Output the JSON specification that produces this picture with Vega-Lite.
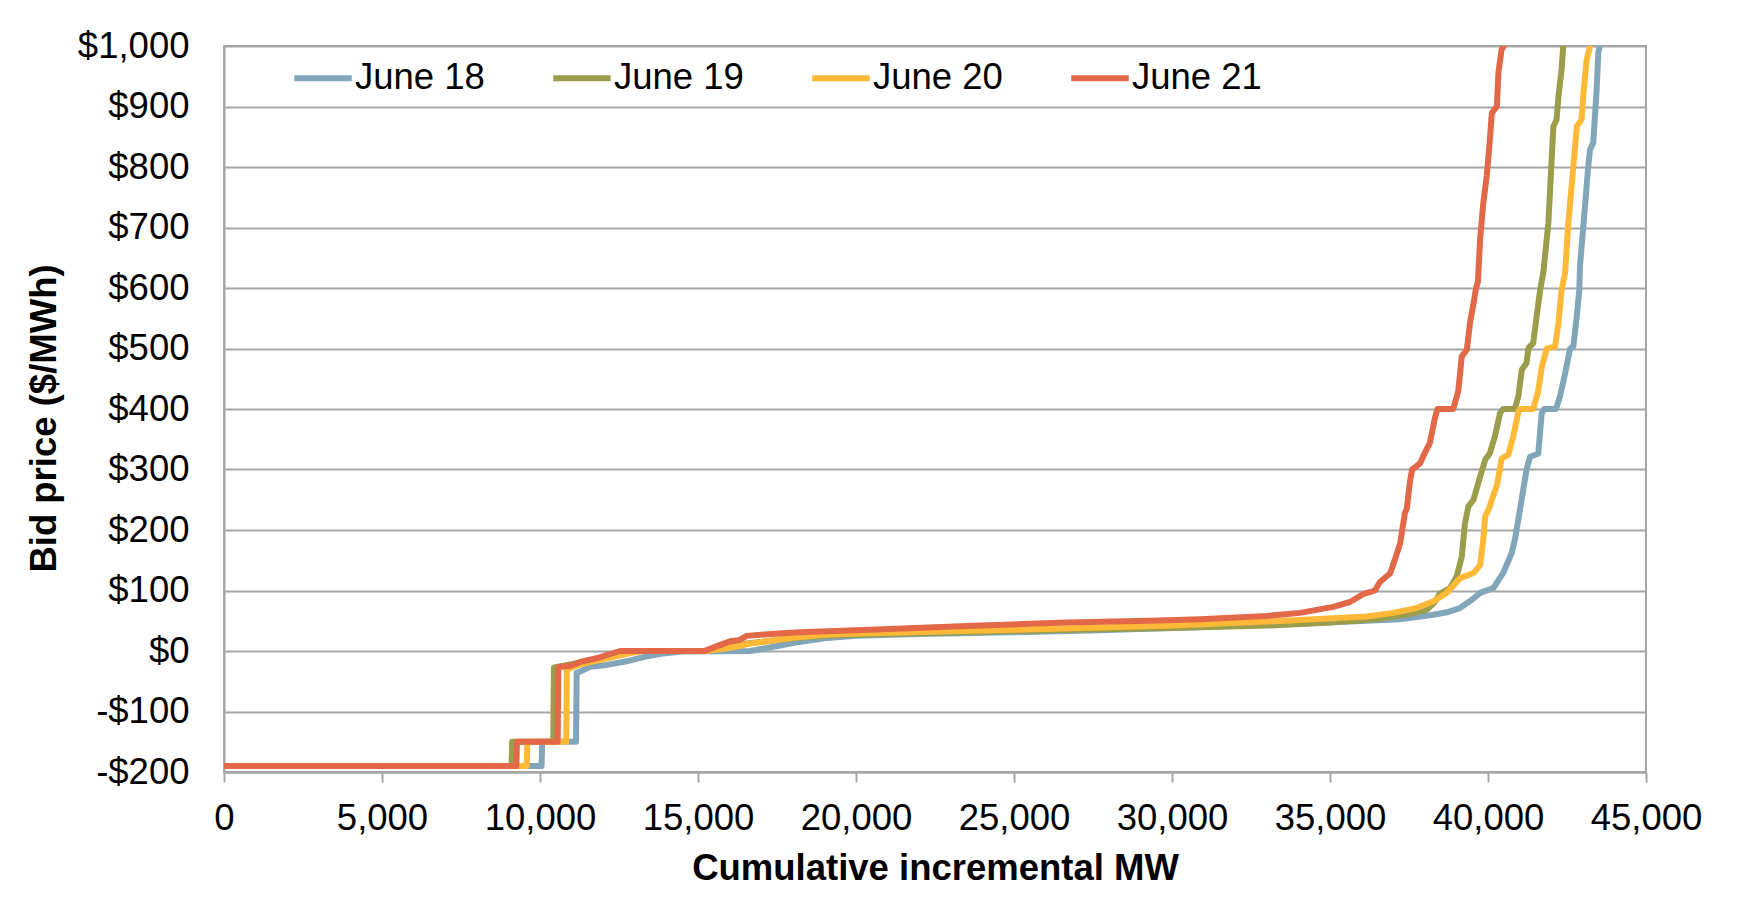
{
  "$schema": "https://vega.github.io/schema/vega-lite/v6.json",
  "autosize": {"type": "none"},
  "width": 1422,
  "height": 726,
  "padding": {"left": 224, "top": 46, "right": 91, "bottom": 142},
  "background": "white",
  "config": {
    "font": "Liberation Sans",
    "view": {"stroke": "#A6A6A6", "strokeWidth": 2},
    "axis": {"labelFont": "Liberation Sans", "titleFont": "Liberation Sans", "labelColor": "#000000", "titleColor": "#000000", "labelFontSize": 36.5, "titleFontSize": 36.5, "titleFontWeight": "bold"}
  },
  "data": {"values": [
    {"d":"June 18","mw":0,"p":-190},{"d":"June 18","mw":10050,"p":-190},{"d":"June 18","mw":10070,"p":-150},{"d":"June 18","mw":11140,"p":-150},{"d":"June 18","mw":11160,"p":-36},{"d":"June 18","mw":11270,"p":-34},{"d":"June 18","mw":11580,"p":-26},{"d":"June 18","mw":12110,"p":-23},{"d":"June 18","mw":12740,"p":-17},{"d":"June 18","mw":13270,"p":-10},{"d":"June 18","mw":13900,"p":-4},{"d":"June 18","mw":14500,"p":-1},{"d":"June 18","mw":16650,"p":0},{"d":"June 18","mw":17100,"p":4},{"d":"June 18","mw":17600,"p":9},{"d":"June 18","mw":18200,"p":15},{"d":"June 18","mw":19000,"p":21},{"d":"June 18","mw":20000,"p":25},{"d":"June 18","mw":22000,"p":28},{"d":"June 18","mw":25000,"p":31},{"d":"June 18","mw":27720,"p":34.5},{"d":"June 18","mw":30000,"p":38},{"d":"June 18","mw":34050,"p":45},{"d":"June 18","mw":37210,"p":52.5},{"d":"June 18","mw":38270,"p":60},{"d":"June 18","mw":38700,"p":64},{"d":"June 18","mw":39110,"p":71},{"d":"June 18","mw":39500,"p":85},{"d":"June 18","mw":39750,"p":96},{"d":"June 18","mw":40170,"p":104},{"d":"June 18","mw":40480,"p":129},{"d":"June 18","mw":40750,"p":162},{"d":"June 18","mw":40850,"p":184},{"d":"June 18","mw":41010,"p":233},{"d":"June 18","mw":41220,"p":300},{"d":"June 18","mw":41330,"p":321},{"d":"June 18","mw":41590,"p":326},{"d":"June 18","mw":41700,"p":393},{"d":"June 18","mw":41780,"p":400},{"d":"June 18","mw":42150,"p":400},{"d":"June 18","mw":42280,"p":421},{"d":"June 18","mw":42440,"p":459},{"d":"June 18","mw":42600,"p":500},{"d":"June 18","mw":42700,"p":503},{"d":"June 18","mw":42810,"p":553},{"d":"June 18","mw":42890,"p":597},{"d":"June 18","mw":42910,"p":636},{"d":"June 18","mw":43070,"p":735},{"d":"June 18","mw":43170,"p":800},{"d":"June 18","mw":43230,"p":829},{"d":"June 18","mw":43330,"p":840},{"d":"June 18","mw":43440,"p":928},{"d":"June 18","mw":43490,"p":989},{"d":"June 18","mw":43540,"p":1000},
    {"d":"June 19","mw":0,"p":-190},{"d":"June 19","mw":9100,"p":-190},{"d":"June 19","mw":9120,"p":-150},{"d":"June 19","mw":10420,"p":-150},{"d":"June 19","mw":10440,"p":-27},{"d":"June 19","mw":11000,"p":-22},{"d":"June 19","mw":11500,"p":-17},{"d":"June 19","mw":12000,"p":-11},{"d":"June 19","mw":12400,"p":-5},{"d":"June 19","mw":12750,"p":0},{"d":"June 19","mw":15300,"p":0},{"d":"June 19","mw":16000,"p":8},{"d":"June 19","mw":16300,"p":11},{"d":"June 19","mw":17000,"p":15},{"d":"June 19","mw":18000,"p":21},{"d":"June 19","mw":19000,"p":25},{"d":"June 19","mw":20000,"p":27},{"d":"June 19","mw":25000,"p":33},{"d":"June 19","mw":27700,"p":36},{"d":"June 19","mw":30000,"p":38},{"d":"June 19","mw":33000,"p":42},{"d":"June 19","mw":35000,"p":47},{"d":"June 19","mw":36500,"p":53},{"d":"June 19","mw":37500,"p":61},{"d":"June 19","mw":38060,"p":68},{"d":"June 19","mw":38300,"p":80},{"d":"June 19","mw":38480,"p":95},{"d":"June 19","mw":38800,"p":104},{"d":"June 19","mw":39010,"p":123},{"d":"June 19","mw":39170,"p":156},{"d":"June 19","mw":39270,"p":211},{"d":"June 19","mw":39380,"p":239},{"d":"June 19","mw":39540,"p":250},{"d":"June 19","mw":39750,"p":288},{"d":"June 19","mw":39910,"p":316},{"d":"June 19","mw":40060,"p":327},{"d":"June 19","mw":40220,"p":355},{"d":"June 19","mw":40380,"p":393},{"d":"June 19","mw":40480,"p":400},{"d":"June 19","mw":40850,"p":400},{"d":"June 19","mw":40960,"p":421},{"d":"June 19","mw":41070,"p":465},{"d":"June 19","mw":41220,"p":476},{"d":"June 19","mw":41280,"p":501},{"d":"June 19","mw":41430,"p":509},{"d":"June 19","mw":41540,"p":553},{"d":"June 19","mw":41650,"p":597},{"d":"June 19","mw":41750,"p":625},{"d":"June 19","mw":41910,"p":707},{"d":"June 19","mw":42020,"p":818},{"d":"June 19","mw":42070,"p":867},{"d":"June 19","mw":42170,"p":878},{"d":"June 19","mw":42230,"p":917},{"d":"June 19","mw":42330,"p":961},{"d":"June 19","mw":42380,"p":1000},
    {"d":"June 20","mw":0,"p":-190},{"d":"June 20","mw":9580,"p":-190},{"d":"June 20","mw":9600,"p":-150},{"d":"June 20","mw":10830,"p":-150},{"d":"June 20","mw":10850,"p":-30},{"d":"June 20","mw":11300,"p":-22},{"d":"June 20","mw":11800,"p":-16},{"d":"June 20","mw":12300,"p":-10},{"d":"June 20","mw":12900,"p":-3},{"d":"June 20","mw":13300,"p":0},{"d":"June 20","mw":15200,"p":0},{"d":"June 20","mw":15700,"p":3},{"d":"June 20","mw":16200,"p":7},{"d":"June 20","mw":16600,"p":12},{"d":"June 20","mw":17200,"p":16},{"d":"June 20","mw":18000,"p":22},{"d":"June 20","mw":19000,"p":27},{"d":"June 20","mw":20000,"p":29},{"d":"June 20","mw":25000,"p":35},{"d":"June 20","mw":27720,"p":39},{"d":"June 20","mw":30000,"p":42},{"d":"June 20","mw":33000,"p":48.6},{"d":"June 20","mw":36160,"p":57},{"d":"June 20","mw":37000,"p":63},{"d":"June 20","mw":37740,"p":71},{"d":"June 20","mw":38270,"p":82},{"d":"June 20","mw":38690,"p":96},{"d":"June 20","mw":39110,"p":120},{"d":"June 20","mw":39540,"p":129},{"d":"June 20","mw":39750,"p":142},{"d":"June 20","mw":39850,"p":184},{"d":"June 20","mw":39910,"p":222},{"d":"June 20","mw":40060,"p":239},{"d":"June 20","mw":40120,"p":250},{"d":"June 20","mw":40290,"p":275},{"d":"June 20","mw":40430,"p":318},{"d":"June 20","mw":40640,"p":324},{"d":"June 20","mw":40800,"p":355},{"d":"June 20","mw":40960,"p":395},{"d":"June 20","mw":41010,"p":400},{"d":"June 20","mw":41430,"p":400},{"d":"June 20","mw":41590,"p":430},{"d":"June 20","mw":41700,"p":469},{"d":"June 20","mw":41860,"p":500},{"d":"June 20","mw":42120,"p":503},{"d":"June 20","mw":42230,"p":542},{"d":"June 20","mw":42330,"p":597},{"d":"June 20","mw":42440,"p":625},{"d":"June 20","mw":42540,"p":707},{"d":"June 20","mw":42700,"p":800},{"d":"June 20","mw":42810,"p":867},{"d":"June 20","mw":42960,"p":878},{"d":"June 20","mw":43020,"p":922},{"d":"June 20","mw":43120,"p":977},{"d":"June 20","mw":43230,"p":1000},
    {"d":"June 21","mw":0,"p":-190},{"d":"June 21","mw":9250,"p":-190},{"d":"June 21","mw":9270,"p":-150},{"d":"June 21","mw":10560,"p":-150},{"d":"June 21","mw":10580,"p":-27},{"d":"June 21","mw":11000,"p":-24},{"d":"June 21","mw":11270,"p":-18},{"d":"June 21","mw":11790,"p":-12},{"d":"June 21","mw":12110,"p":-7},{"d":"June 21","mw":12530,"p":0},{"d":"June 21","mw":15200,"p":0},{"d":"June 21","mw":15600,"p":8},{"d":"June 21","mw":16010,"p":16},{"d":"June 21","mw":16300,"p":18},{"d":"June 21","mw":16540,"p":25},{"d":"June 21","mw":17300,"p":28},{"d":"June 21","mw":18230,"p":31},{"d":"June 21","mw":20860,"p":36},{"d":"June 21","mw":23500,"p":41.5},{"d":"June 21","mw":26670,"p":47},{"d":"June 21","mw":29300,"p":50},{"d":"June 21","mw":30890,"p":52.5},{"d":"June 21","mw":33000,"p":58},{"d":"June 21","mw":34050,"p":63},{"d":"June 21","mw":35100,"p":73},{"d":"June 21","mw":35630,"p":81},{"d":"June 21","mw":36050,"p":94},{"d":"June 21","mw":36420,"p":100},{"d":"June 21","mw":36580,"p":114},{"d":"June 21","mw":36900,"p":128},{"d":"June 21","mw":37060,"p":152},{"d":"June 21","mw":37220,"p":178},{"d":"June 21","mw":37370,"p":228},{"d":"June 21","mw":37430,"p":235},{"d":"June 21","mw":37530,"p":280},{"d":"June 21","mw":37600,"p":300},{"d":"June 21","mw":37850,"p":310},{"d":"June 21","mw":37950,"p":322},{"d":"June 21","mw":38160,"p":344},{"d":"June 21","mw":38320,"p":385},{"d":"June 21","mw":38400,"p":400},{"d":"June 21","mw":38900,"p":400},{"d":"June 21","mw":39060,"p":430},{"d":"June 21","mw":39170,"p":487},{"d":"June 21","mw":39330,"p":498},{"d":"June 21","mw":39430,"p":542},{"d":"June 21","mw":39560,"p":580},{"d":"June 21","mw":39620,"p":600},{"d":"June 21","mw":39680,"p":610},{"d":"June 21","mw":39750,"p":680},{"d":"June 21","mw":39850,"p":740},{"d":"June 21","mw":39960,"p":785},{"d":"June 21","mw":40060,"p":845},{"d":"June 21","mw":40120,"p":889},{"d":"June 21","mw":40280,"p":900},{"d":"June 21","mw":40330,"p":956},{"d":"June 21","mw":40430,"p":994},{"d":"June 21","mw":40500,"p":1000}
  ]},
  "mark": {"type": "line", "strokeWidth": 6, "strokeJoin": "round", "strokeCap": "round", "clip": true},
  "encoding": {
    "x": {"field": "mw", "type": "quantitative",
      "scale": {"domain": [0, 45000], "nice": false},
      "axis": {"title": "Cumulative incremental MW", "values": [0,5000,10000,15000,20000,25000,30000,35000,40000,45000], "format": ",.0f", "grid": false, "domainColor": "#A6A6A6", "domainWidth": 2, "tickColor": "#A6A6A6", "tickWidth": 2, "tickSize": 10, "labelPadding": 18, "titlePadding": 14, "labelFlush": false, "labelOverlap": false}},
    "y": {"field": "p", "type": "quantitative",
      "scale": {"domain": [-200, 1000], "nice": false, "zero": false},
      "axis": {"title": "Bid price ($/MWh)", "values": [-200,-100,0,100,200,300,400,500,600,700,800,900,1000],
        "labelExpr": "datum.value < 0 ? '-$' + format(-datum.value, ',') : '$' + format(datum.value, ',')",
        "ticks": false, "tickSize": 0, "labelPadding": 35, "grid": true, "gridColor": "#A6A6A6", "gridWidth": 2,
        "domainColor": "#A6A6A6", "domainWidth": 2, "titlePadding": 14, "titleY": 372, "labelFlush": false, "labelOverlap": false}},
    "color": {"field": "d", "type": "nominal",
      "scale": {"domain": ["June 18", "June 19", "June 20", "June 21"], "range": ["#82A6B9", "#9B9D4B", "#FFB937", "#E26848"]},
      "legend": {"title": null, "orient": "none", "legendX": 67, "legendY": 0, "direction": "horizontal", "columns": 4,
        "symbolType": "stroke", "symbolSize": 3300, "symbolStrokeWidth": 6, "labelFontSize": 36.5, "labelFont": "Liberation Sans", "labelColor": "#000000",
        "labelOffset": 0, "columnPadding": 56, "padding": 0, "labelLimit": 400}}
  }
}
